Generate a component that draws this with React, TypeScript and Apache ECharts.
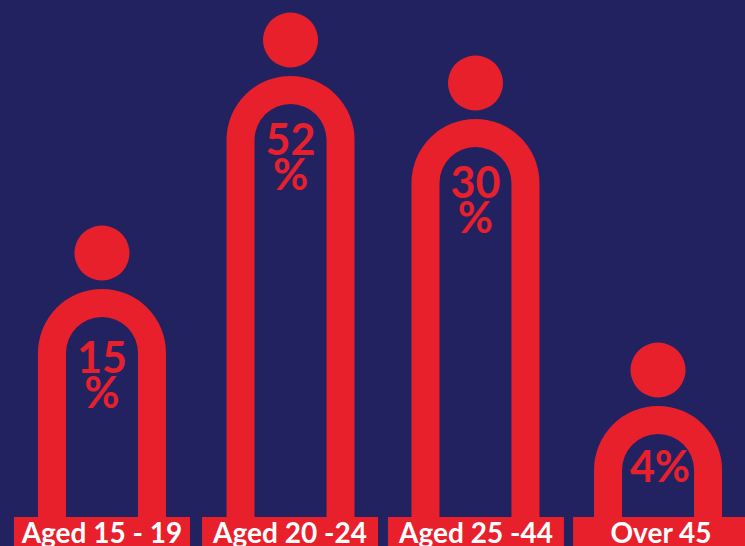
import React, { useEffect, useRef } from "react";
import * as echarts from "echarts";

// Data
const categories = ["Aged 15 - 19", "Aged 20 -24", "Aged 25 -44", "Over 45"];
const shares = [15, 52, 30, 4];
// Drawn height of each figure's arch above the base line
const figureHeights = [228, 441, 398, 111];

// Layout and style
const WIDTH = 745;
const HEIGHT = 546;
const BASELINE_GAP = 29;
const CENTRE_NUDGE = [0.1, 4.9, 6.1, 4.9];
const LABEL_NUDGE = [0.1, 4.4, 6.6, 7.9];
const TEXT_DROP = [52, 47, 47, 44];
const OUTER_R = 64;
const INNER_R = 36;
const HEAD_R = 27.5;
const HEAD_LIFT = 36;
const LABEL_W = 176;
const RED = "#e7202c";
const NAVY = "#222261";
const FONT = "Lato, 'Noto Sans', sans-serif";

export default function App() {
  const ref = useRef<HTMLDivElement>(null);

  useEffect(() => {
    document.body.style.margin = "0";
    document.body.style.background = NAVY;
    const chart = echarts.init(ref.current!, null, { renderer: "svg" });
    chart.setOption({
      animation: false,
      backgroundColor: NAVY,
      grid: { left: 10, right: 0, top: 0, bottom: BASELINE_GAP },
      xAxis: { type: "category", data: categories, show: false },
      yAxis: { type: "value", min: 0, max: HEIGHT - BASELINE_GAP, show: false },
      series: [
        {
          type: "custom",
          clip: false,
          data: categories.map((_, i) => [i, figureHeights[i], shares[i]]),
          encode: { x: 0, y: 1 },
          renderItem: (params: any, api: any) => {
            const i = api.value(0) as number;
            const [cx0, top] = api.coord([i, api.value(1)]);
            const [, base] = api.coord([i, 0]);
            const cx = cx0 + CENTRE_NUDGE[i];
            const cy = top + OUTER_R;
            const thickness = OUTER_R - INNER_R;
            const labelCx = cx0 + LABEL_NUDGE[i];
            const share = api.value(2) as number;
            const shareText = share < 10 ? `${share}%` : `${share}\n%`;
            return {
              type: "group",
              children: [
                { type: "circle", shape: { cx, cy: top - HEAD_LIFT, r: HEAD_R }, style: { fill: RED } },
                {
                  type: "sector",
                  shape: { cx, cy, r: OUTER_R, r0: INNER_R, startAngle: Math.PI, endAngle: 2 * Math.PI, clockwise: true },
                  style: { fill: RED },
                },
                { type: "rect", shape: { x: cx - OUTER_R, y: cy, width: thickness, height: base - cy }, style: { fill: RED } },
                { type: "rect", shape: { x: cx + INNER_R, y: cy, width: thickness, height: base - cy }, style: { fill: RED } },
                {
                  type: "text",
                  style: {
                    x: cx + (share < 10 ? 2 : 0),
                    y: top + TEXT_DROP[i] - 2,
                    text: shareText,
                    fill: RED,
                    font: `700 43px ${FONT}`,
                    lineHeight: 35,
                    align: "center",
                    verticalAlign: "top",
                  },
                },
                { type: "rect", shape: { x: labelCx - LABEL_W / 2, y: base, width: LABEL_W, height: BASELINE_GAP }, style: { fill: RED } },
                {
                  type: "text",
                  style: {
                    x: labelCx,
                    y: base + 15,
                    text: categories[i],
                    fill: "#ffffff",
                    font: `700 28px ${FONT}`,
                    align: "center",
                    verticalAlign: "middle",
                  },
                },
              ],
            };
          },
        },
      ],
    });
    return () => chart.dispose();
  }, []);

  return <div ref={ref} style={{ width: WIDTH, height: HEIGHT }} />;
}
